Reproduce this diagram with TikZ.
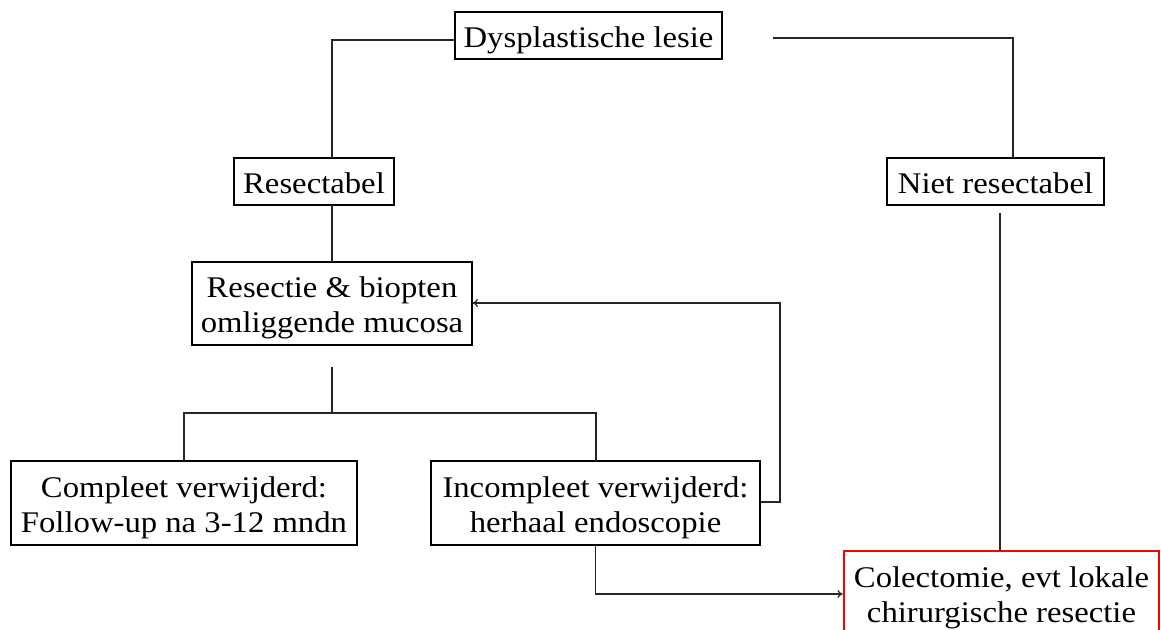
\documentclass[tikz,border=0pt]{standalone}
\usepackage{fontspec}
\setmainfont{Liberation Serif}[FakeStretch=1.09]
\usetikzlibrary{arrows.meta}
\newcommand\boxtxt[1]{\raisebox{-3.4pt}[\height][\depth]{\begin{tabular}{@{}c@{}}#1\end{tabular}}}
\begin{document}
\begin{tikzpicture}[x=0.75pt,y=-0.75pt,
  box/.style={draw=black,line width=0.8pt,inner sep=0pt,
    font=\fontsize{22.5}{26.3}\selectfont\renewcommand\arraystretch{1}},
  redbox/.style={box,draw=red,line width=1.9pt},
  conn/.style={draw=black!85,line width=0.9pt},
  arr/.style={conn,-{To[length=4pt,width=6pt]}}]
\useasboundingbox (0,0) rectangle (1161,630);
\clip (0,0) rectangle (1161,630);
\node[box,minimum width=200.25pt,minimum height=35.25pt] (dys) at (588.5,35.5) {\boxtxt{Dysplastische lesie}};
\node[box,minimum width=120pt,minimum height=35.25pt] (res) at (314,181.5) {\boxtxt{Resectabel}};
\node[box,minimum width=162.75pt,minimum height=35.25pt] (niet) at (995.5,181.5) {\boxtxt{Niet resectabel}};
\node[box,minimum width=210pt,minimum height=62.25pt] (rb) at (332,303.5) {\boxtxt{Resectie \& biopten\\omliggende mucosa}};
\node[box,minimum width=259.5pt,minimum height=63pt] (comp) at (184,503) {\boxtxt{Compleet verwijderd:\\Follow-up na 3-12 mndn}};
\node[box,minimum width=246.75pt,minimum height=63pt] (inc) at (595.5,503) {\boxtxt{Incompleet verwijderd:\\herhaal endoscopie}};
\node[redbox,minimum width=236.25pt,minimum height=63pt] (col) at (1001.5,593) {\boxtxt{Colectomie, evt lokale\\chirurgische resectie}};
% connectors
\coordinate (dysR) at (773,38);
\coordinate (nietB) at (1000,213);
\coordinate (rbB) at (332,367);
\coordinate (split) at (332,413);
\draw[conn] (dys.west |- 0,40) -| (332,158);
\draw[conn] (dysR) -| (1013,158);
\draw[conn] (332,205) -- (332,262);
\draw[conn] (nietB) -- (1000,551);
\draw[conn] (rbB) -- (split);
\draw[conn] (184,461) |- (596,413) -- (596,461);
\draw[arr] (inc.east |- 0,502) -| (780,303) -- (rb.east |- 0,303);
\draw[arr] (inc.south) |- (col.west |- 0,594);
\end{tikzpicture}
\end{document}
